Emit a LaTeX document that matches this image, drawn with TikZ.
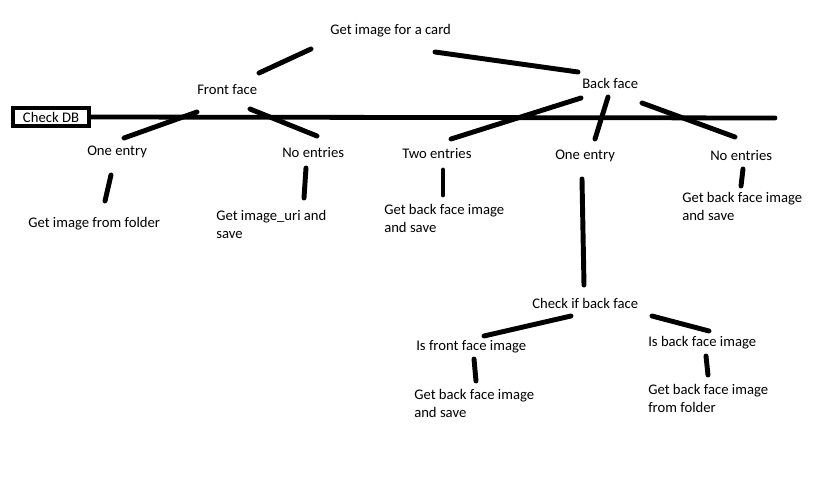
\documentclass[tikz,border=0pt]{standalone}
\usepackage{fontspec}
\setmainfont{Carlito}
\begin{document}
\begin{tikzpicture}[x=0.75pt,y=-0.75pt,
    lbl/.style={anchor=base west, inner sep=0pt, align=left, font=\fontsize{11}{13.5}\selectfont},
    stroke/.style={line width=3.7pt, line cap=round}]
    \useasboundingbox (0,0) rectangle (822,496);
    % top level
    \node[lbl] (card) at (330,34) {Get image for a card};
    \node[lbl] (front) at (197,94) {Front face};
    \node[lbl] (back) at (582,88) {Back face};
    \node[draw, line width=3pt, minimum width=57pt, minimum height=13.5pt, inner sep=0pt,
        font=\fontsize{11}{13.5}\selectfont] (chk) at (51,117) {Check DB};
    \draw[line width=3.6pt, line cap=round] (chk.east) -- (775,118) coordinate (dbend);
    % front face branch (two-line labels sit on their last line)
    \node[lbl] (one1) at (87,155) {One entry};
    \node[lbl] (none1) at (282,157) {No entries};
    \node[lbl] (fold1) at (28,227) {Get image from folder};
    \node[lbl] (uri) at (216,238) {Get image\_uri and\\save};
    % back face branch
    \node[lbl] (two) at (402,158) {Two entries};
    \node[lbl] (one2) at (555,159) {One entry};
    \node[lbl] (none2) at (710,160) {No entries};
    \node[lbl] (save2) at (384,232) {Get back face image\\and save};
    \node[lbl] (save3) at (682,220) {Get back face image\\and save};
    % check if back face
    \node[lbl] (ifback) at (532,308) {Check if back face};
    \node[lbl] (isfront) at (416,350) {Is front face image};
    \node[lbl] (isback) at (648,346) {Is back face image};
    \node[lbl] (save4) at (414,417) {Get back face image\\and save};
    \node[lbl] (fold2) at (648,412) {Get back face image\\from folder};
    % strokes
    \draw[stroke] (311,49) coordinate (card-l) -- (259,73) coordinate (front-t);
    \draw[stroke] (435,52) coordinate (card-r) -- (578,72) coordinate (back-t);
    \draw[stroke] (197,112) coordinate (front-l) -- (124,138) coordinate (one1-t);
    \draw[stroke] (250,109) coordinate (front-r) -- (317,136) coordinate (none1-t);
    \draw[stroke] (111,175) coordinate (one1-b) -- (105,201) coordinate (fold1-t);
    \draw[stroke] (306,168) coordinate (none1-b) -- (304,198) coordinate (uri-t);
    \draw[stroke] (581,98) coordinate (back-l) -- (451,139) coordinate (two-t);
    \draw[stroke] (608,97) coordinate (back-m) -- (595,139) coordinate (one2-t);
    \draw[stroke] (642,103) coordinate (back-r) -- (735,137) coordinate (none2-t);
    \draw[stroke] (443,170) coordinate (two-b) -- (443,195) coordinate (save2-t);
    \draw[stroke] (582,179) coordinate (one2-b) -- (584,285) coordinate (ifback-t);
    \draw[stroke] (743,169) coordinate (none2-b) -- (741,186) coordinate (save3-t);
    \draw[stroke] (571,316) coordinate (ifback-l) -- (484,336) coordinate (isfront-t);
    \draw[stroke] (652,316) coordinate (ifback-r) -- (709,331) coordinate (isback-t);
    \draw[stroke] (474,359) coordinate (isfront-b) -- (476,381) coordinate (save4-t);
    \draw[stroke] (706,356) coordinate (isback-b) -- (708,375) coordinate (fold2-t);
\end{tikzpicture}
\end{document}
